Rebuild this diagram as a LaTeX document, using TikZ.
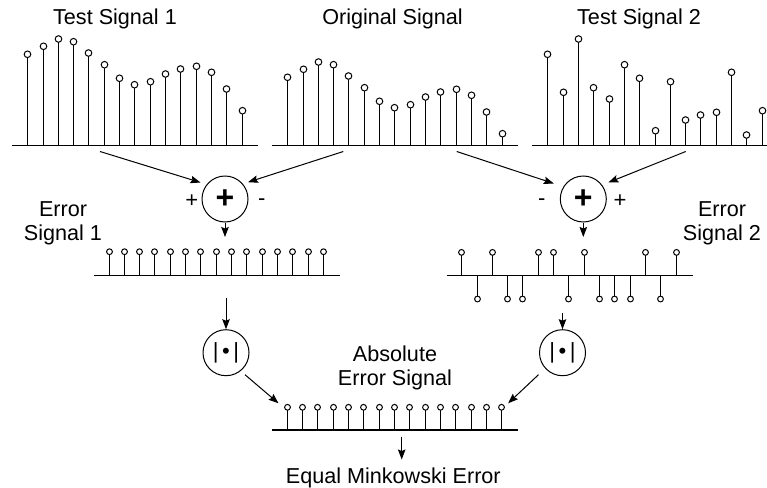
\documentclass[tikz,border=0pt]{standalone}
\usepackage{fontspec}
\setmainfont{Liberation Sans}
\usetikzlibrary{arrows.meta,calc}
\begin{document}
\begin{tikzpicture}[x=1pt,y=-1pt,
  axisline/.style={line width=1.4pt},
  stemline/.style={line width=1.2pt},
  bubble/.style={circle,draw,fill=white,line width=1pt,inner sep=0pt,minimum size=6.6pt},
  smallbubble/.style={circle,draw,fill=white,line width=1pt,inner sep=0pt,minimum size=5.8pt},
  opnode/.style={circle,draw,line width=1pt,minimum size=46pt,inner sep=0pt},
  flow/.style={line width=1pt,-{Stealth[length=10pt,width=7.5pt,inset=1.5pt]}},
  lbl/.style={font=\fontsize{21.6}{23.5}\selectfont,inner sep=0pt,anchor=base},
  sgn/.style={font=\fontsize{22}{22}\selectfont,inner sep=0pt}]
\useasboundingbox (0,0) rectangle (767,487);

% ---------- titles ----------
\node[lbl] (title1) at (115,25) {Test Signal 1};
\node[lbl] (title0) at (392.5,25) {Original Signal};
\node[lbl] (title2) at (639,25) {Test Signal 2};

% ---------- top signals ----------
\draw[axisline] (12,145.7) -- (258,145.7);
\draw[axisline] (271.7,145.7) -- (518,145.7);
\draw[axisline] (531.7,145.7) -- (767,145.7);
\foreach \y [count=\i from 0] in {77.3,69.3,62,64.7,76,87.7,101.3,107.7,104.7,97,92,89.3,95.3,112,133.7}{
  \pgfmathsetmacro\xa{floor(27.7+\i*15.31)+0.5}
  \pgfmathsetmacro\xb{floor(287.7+\i*15.31)+0.5}
  % test signal 1 (original shifted up)
  \draw[stemline] (\xa,145.7) -- (\xa,{\y-23});
  \node[bubble] (ts1-\i) at (\xa,{\y-23}) {};
  % original
  \draw[stemline] (\xb,145.7) -- (\xb,\y);
  \node[bubble] (org-\i) at (\xb,\y) {};
}
\foreach \y/\s [count=\i from 0] in {77.3/-1,69.3/1,62/-1,64.7/1,76/1,87.7/-1,101.3/-1,107.7/1,104.7/-1,97/1,92/1,89.3/1,95.3/-1,112/1,133.7/-1}{
  \pgfmathsetmacro\xc{floor(547.9+\i*15.31)+0.5}
  \pgfmathsetmacro\xd{floor(461.7+\i*15.31)+0.5}
  % test signal 2
  \draw[stemline] (\xc,145.7) -- (\xc,{\y+23*\s});
  \node[bubble] (ts2-\i) at (\xc,{\y+23*\s}) {};
  % error signal 2
  \draw[stemline] (\xd,275.7) -- (\xd,{275.7+23.3*\s});
  \node[smallbubble] (es2-\i) at (\xd,{275.7+23.3*\s}) {};
}

% ---------- adders ----------
\node[opnode] (add1) at (225,199) {\fontsize{32}{32}\selectfont\bfseries +};
\node[opnode] (add2) at (583.3,199) {\fontsize{32}{32}\selectfont\bfseries +};
\node[sgn] (p1) at (191.7,201.5) {+};
\node[sgn] (m1) at (261.7,202.5) {-};
\node[sgn] (m2) at (541.7,202.5) {-};
\node[sgn] (p2) at (620,201.5) {+};

\coordinate (t1o) at (100,151.5);
\coordinate (o1o) at (343.3,151.5);
\coordinate (o2o) at (456.7,151.5);
\coordinate (t2o) at (685.7,151.5);
\draw[flow] (t1o) -- ($(add1)+(-24.5,-16.5)$);
\draw[flow] (o1o) -- ($(add1)+(23,-16.8)$);
\draw[flow] (o2o) -- ($(add2)+(-29.5,-15.5)$);
\draw[flow] (t2o) -- ($(add2)+(25,-16.5)$);

% ---------- error signal 1 ----------
\draw[axisline] (94.3,275.7) -- (340,275.7);
\foreach \i in {0,...,14}{
  \pgfmathsetmacro\xe{floor(109+\i*15.31)+0.5}
  \draw[stemline] (\xe,275.7) -- (\xe,251.7);
  \node[smallbubble] (es1-\i) at (\xe,251.7) {};
}
% ---------- error signal 2 axis ----------
\draw[axisline] (446.7,275.7) -- (692.7,275.7);

\coordinate (e1in) at (225,237);
\coordinate (e2in) at (583.3,237);
\draw[flow] (add1.south) -- (e1in);
\draw[flow] (add2.south) -- (e2in);

\node[lbl,align=center] (lab1) at (63,240) {Error\\Signal 1};
\node[lbl,align=center] (lab2) at (722,240) {Error\\Signal 2};

% ---------- absolute value ----------
\node[opnode] (abs1) at (226,352.7) {\fontsize{22}{22}\selectfont|\kern3.5pt•\kern3.5pt|};
\node[opnode] (abs2) at (562.5,352.7) {\fontsize{22}{22}\selectfont|\kern3.5pt•\kern3.5pt|};
\coordinate (e1out) at (226,298.3);
\coordinate (e2out) at (562.5,313.3);
\draw[flow] (e1out) -- (abs1.north);
\draw[flow] (e2out) -- (abs2.north);

% ---------- absolute error signal ----------
\draw[axisline] (271.7,430) -- (518.3,430);
\foreach \i in {0,...,14}{
  \pgfmathsetmacro\xf{floor(287.3+\i*15.31)+0.5}
  \draw[stemline] (\xf,430) -- (\xf,407.3);
  \node[smallbubble] (abe-\i) at (\xf,407.3) {};
}
\draw[flow] ($(abs1)+(19,22)$) -- ($(abe-0)+(-9,-4)$);
\draw[flow] ($(abs2)+(-24,22)$) -- ($(abe-14)+(6.6,-4)$);
\node[lbl,align=center] (lab3) at (395,385) {Absolute\\Error Signal};

\coordinate (mout) at (401.7,436.7);
\coordinate (min) at (401.7,459.5);
\draw[flow] (mout) -- (min);
\node[lbl] (res) at (393.3,483) {Equal Minkowski Error};
\end{tikzpicture}
\end{document}
